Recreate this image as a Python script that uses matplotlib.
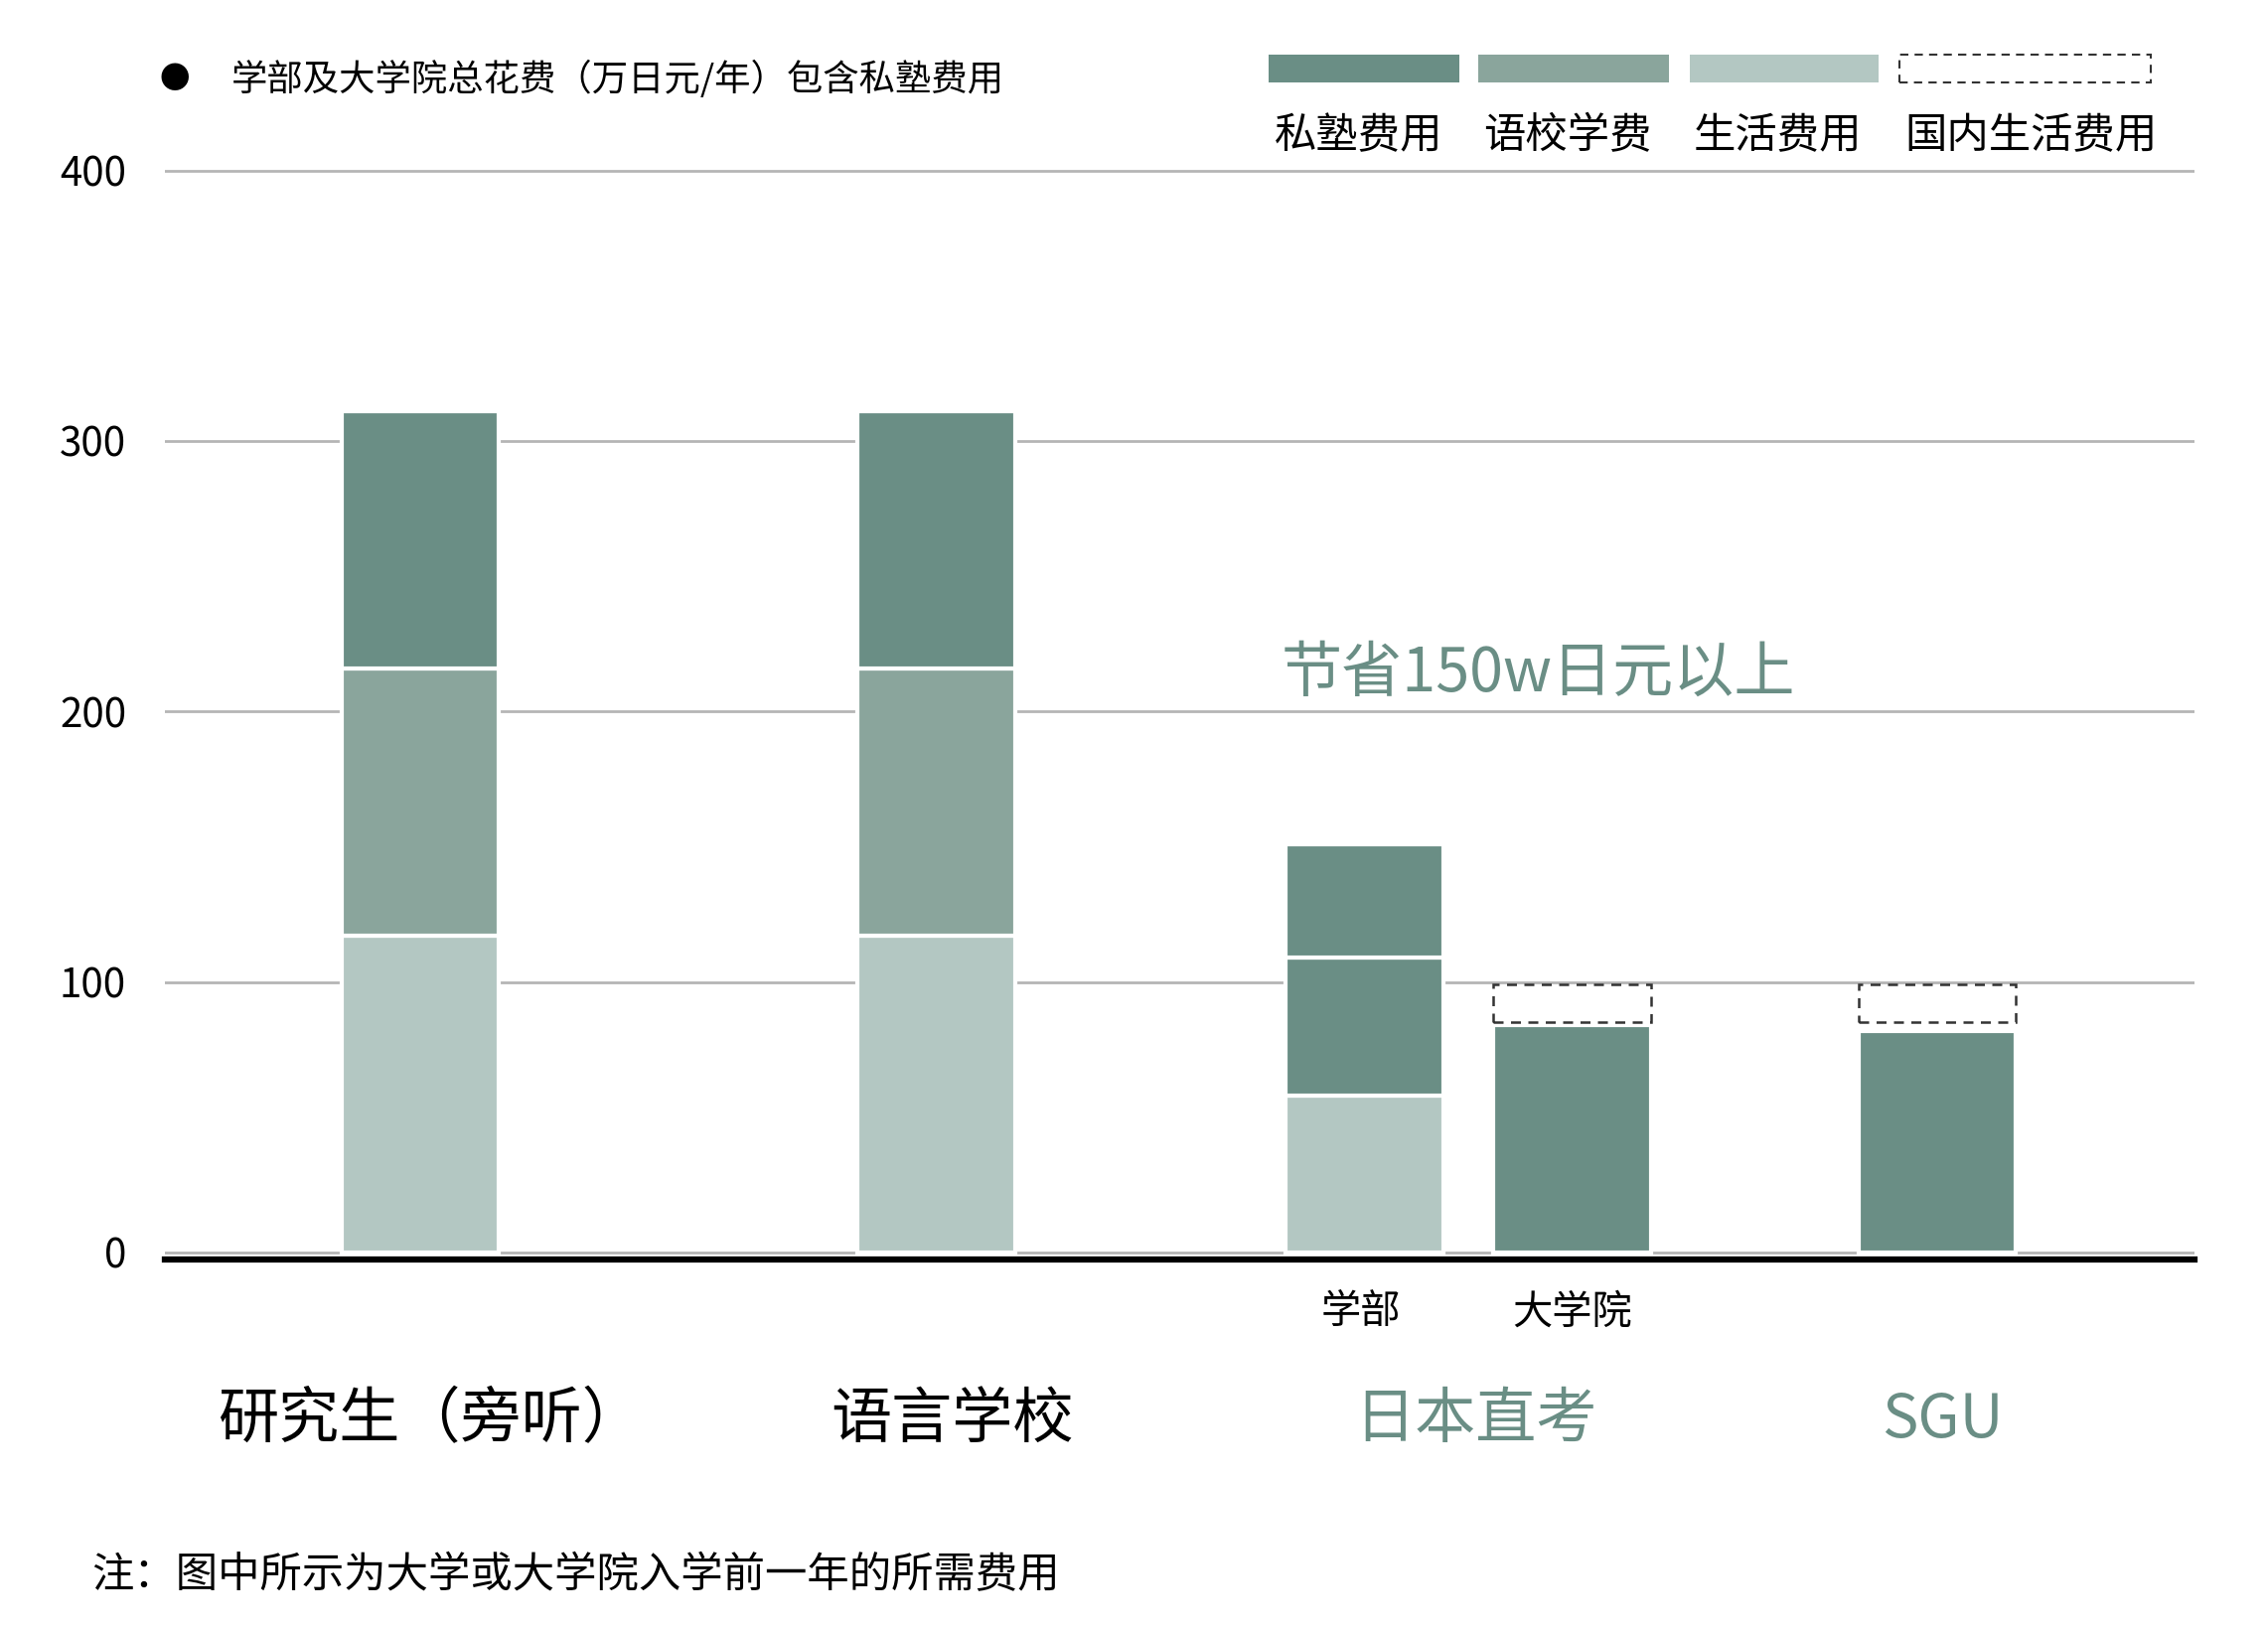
import matplotlib
matplotlib.use("Agg")
import matplotlib.pyplot as plt
from matplotlib.patches import Rectangle

plt.rcParams['font.family'] = ['Noto Sans CJK SC', 'DejaVu Sans']

# ---------------- data ----------------
categories = ["研究生（旁听）", "语言学校", "日本直考", "SGU"]
sub_labels = ["学部", "大学院"]
# bars: 研究生, 语言学校, 日本直考-学部, 日本直考-大学院, SGU
living = [117, 117, 58, 0, 0]        # 生活费用
school_fee = [99, 99, 0, 0, 0]       # 语校学费
tuition = [0, 0, 51, 84, 82]         # dark lower block
juku = [95, 95, 42, 0, 0]            # 私塾费用
domestic_low = [0, 0, 0, 85, 85]     # 国内生活费用 (dashed box)
domestic_high = [0, 0, 0, 99, 99]
yticks = [0, 100, 200, 300, 400]
legend_labels = ["私塾费用", "语校学费", "生活费用", "国内生活费用"]
top_note = "学部及大学院总花费（万日元/年）包含私塾费用"
annotation = "节省150w日元以上"
footnote = "注：图中所示为大学或大学院入学前一年的所需费用"

# ---------------- layout ----------------
xpos = [0.0, 1.0, 1.829, 2.231, 2.937]
bar_w = 0.305
cat_x = [0.019, 1.03, 2.043, 2.948]
sub_x = [1.822, 2.231]

DARK = "#6a8e85"
MID = "#8aa59c"
LIGHT = "#b3c7c2"
GREEN_TXT = "#6a8e85"
W = "light"

fig = plt.figure(figsize=(22.83, 16.39), dpi=100)
ax = fig.add_axes([0.0727, 0.2265, 0.895, 0.6705])

for i, x in enumerate(xpos):
    bottom = 0
    for vals, col in ((living, LIGHT), (school_fee, MID), (tuition, DARK), (juku, DARK)):
        v = vals[i]
        if v > 0:
            ax.bar(x, v, bottom=bottom, width=bar_w, color=col,
                   edgecolor="white", linewidth=3, zorder=3)
            bottom += v
    if domestic_high[i] > 0:
        ax.bar(x, domestic_high[i] - domestic_low[i], bottom=domestic_low[i],
               width=bar_w, facecolor="white", edgecolor="#333333",
               linewidth=1.8, linestyle=(0, (4, 3)), zorder=3)

ax.set_xlim(-0.494, 3.436)
ax.set_ylim(-2.5, 401)
ax.set_yticks(yticks)
ax.set_yticklabels([str(t) for t in yticks], fontsize=29, fontweight=W)
ax.tick_params(axis='y', length=0, pad=28)
ax.set_xticks([])
ax.yaxis.grid(True, color="#b5b5b5", linewidth=2)
ax.set_axisbelow(True)
for s in ("top", "right", "left"):
    ax.spines[s].set_visible(False)
ax.spines["bottom"].set_linewidth(4.5)
ax.spines["bottom"].set_color("black")

# category labels
for j, (c, x) in enumerate(zip(categories, cat_x)):
    col = "black" if j < 2 else GREEN_TXT
    ax.text(x, -62, c, ha="center", va="center", fontsize=44, color=col,
            fontweight=W, clip_on=False)
for s, x in zip(sub_labels, sub_x):
    ax.text(x, -22, s, ha="center", va="center", fontsize=29, color="black",
            fontweight=W, clip_on=False)

ax.text(1.668, 214, annotation, ha="left", va="center", fontsize=44,
        color=GREEN_TXT, fontweight=W, zorder=5)

# top-left note
fig.text(0.0772, 0.951, "●", ha="center", va="center", fontsize=22, color="black")
fig.text(0.102, 0.951, top_note, ha="left", va="center", fontsize=26.2,
         color="black", fontweight=W)

# custom legend (top right)
leg_x = [877, 1022, 1168, 1313]
leg_w = [132, 132, 131, 174]
leg_styles = [dict(facecolor=DARK, edgecolor="none"),
              dict(facecolor=MID, edgecolor="none"),
              dict(facecolor=LIGHT, edgecolor="none"),
              dict(facecolor="white", edgecolor="#333333", linewidth=1.5, linestyle=(0, (4, 3)))]
lab_cx = [939, 1084, 1229, 1404]
for lx, lw, st, lab, cx in zip(leg_x, leg_w, leg_styles, legend_labels, lab_cx):
    x0 = lx / 1568
    w = lw / 1568
    y0 = 1 - 57 / 1126
    h = 19 / 1126
    fig.patches.append(Rectangle((x0, y0), w, h, transform=fig.transFigure, **st))
    fig.text(cx / 1568, 1 - 94 / 1126, lab, ha="center", va="center", fontsize=30.5,
             color="black", fontweight=W)

fig.text(0.0402, 0.032, footnote, ha="left", va="center", fontsize=30.5,
         color="black", fontweight=W)

fig.savefig("out.png", dpi=100, facecolor="white")
